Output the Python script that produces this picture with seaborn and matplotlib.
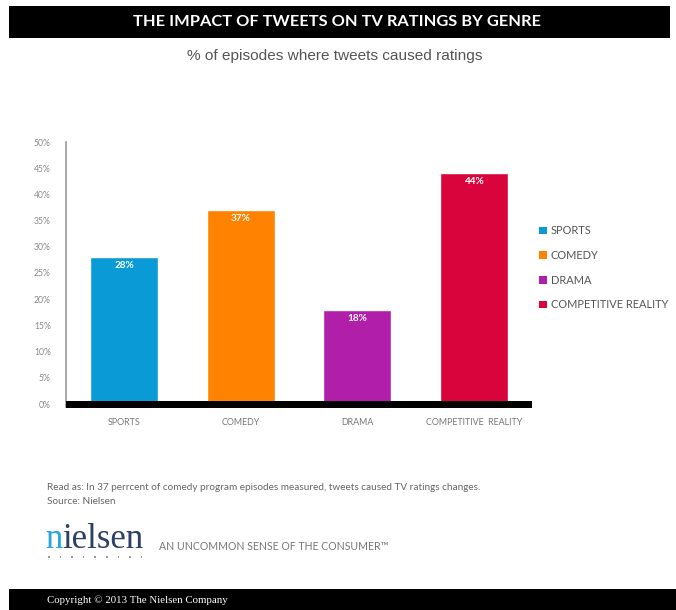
import matplotlib
matplotlib.use("Agg")
import matplotlib.pyplot as plt
from matplotlib.patches import Rectangle, Patch
import seaborn as sns
import pandas as pd

# Data
genres = ["SPORTS", "COMEDY", "DRAMA", "COMPETITIVE  REALITY"]
legend_labels = ["SPORTS", "COMEDY", "DRAMA", "COMPETITIVE REALITY"]
values = [28, 37, 18, 44]
colors = ["#0A9BD7", "#FF8200", "#B11FAA", "#D9043B"]
yticks = [0, 5, 10, 15, 20, 25, 30, 35, 40, 45, 50]

title = "THE IMPACT OF TWEETS ON TV RATINGS BY GENRE"
subtitle = "% of episodes where tweets caused ratings"
note = "Read as: In 37 perrcent of comedy program episodes measured, tweets caused TV ratings changes."
source = "Source: Nielsen"
copyright_text = "Copyright \u00a9 2013 The Nielsen Company"

df = pd.DataFrame({"genre": genres, "value": values})

sns.set_theme(style="white")
plt.rcParams["font.family"] = ["Lato", "DejaVu Sans"]

W, H = 676, 610
fig = plt.figure(figsize=(W / 100, H / 100), dpi=100)
fig.patch.set_facecolor("white")


def fx(px):
    return px / W


def fy(py):
    return 1 - py / H


# Header band
fig.patches.append(Rectangle((fx(9), fy(38)), fx(661), (38 - 6) / H,
                             transform=fig.transFigure, facecolor="black",
                             edgecolor="none", zorder=0))
fig.text(fx(337), fy(22), title, ha="center", va="center", color="white",
         fontsize=11.8, fontweight="bold", family=["Lato", "DejaVu Sans"])
fig.text(fx(335), fy(56), subtitle, ha="center", va="center", color="#555555",
         fontsize=11.1, family=["Liberation Sans", "DejaVu Sans"])

# Footer band
fig.patches.append(Rectangle((fx(9), 0), fx(667), (610 - 589) / H,
                             transform=fig.transFigure, facecolor="black",
                             edgecolor="none", zorder=0))
fig.text(fx(47), fy(600), copyright_text, ha="left", va="center", color="white",
         fontsize=7.8, family=["Liberation Serif", "DejaVu Serif"])

# Main chart
ax = fig.add_axes([fx(66), fy(404), fx(532 - 66), (404 - 142) / H])
sns.barplot(data=df, x="genre", y="value", hue="genre", palette=colors,
            width=0.58, legend=False, ax=ax, saturation=1, zorder=2)
ax.set_xlim(-0.5, 3.5)
ax.set_ylim(0, 50)
ax.set_yticks(yticks)
ax.set_yticklabels([f"{v}%" for v in yticks], color="#8a8a8a", fontsize=6.2)
ax.tick_params(axis="y", length=0, pad=11)
ax.tick_params(axis="x", length=0, pad=10, labelsize=6.4, labelcolor="#777777")
ax.set_xlabel("")
ax.set_ylabel("")
for side in ["top", "right", "bottom"]:
    ax.spines[side].set_visible(False)
ax.spines["left"].set_color("#999999")
ax.spines["left"].set_linewidth(1.2)
ax.spines["left"].set_bounds(-0.6, 50)

# Heavy black floor under the bars
ax.add_patch(Rectangle((0, -4 / 262), 1, 7.5 / 262, transform=ax.transAxes,
                       facecolor="black", edgecolor="none", zorder=3,
                       clip_on=False))

for i, v in enumerate(values):
    ax.annotate(f"{v}%", (i, v), xytext=(0, -6), textcoords="offset points",
                ha="center", va="center", color="white", fontsize=7.2,
                fontweight="bold")

handles = [Patch(facecolor=c, edgecolor="none") for c in colors]
fig.legend(handles, legend_labels, loc="upper left",
           bbox_to_anchor=(fx(535), fy(221)), frameon=False, fontsize=7.9,
           labelcolor="#555555", handlelength=0.7, handleheight=0.7,
           handletextpad=0.35, labelspacing=1.24, borderaxespad=0)

# Notes
fig.text(fx(47), fy(488), note, ha="left", va="center", color="#666666",
         fontsize=7.2)
fig.text(fx(47), fy(501), source, ha="left", va="center", color="#666666",
         fontsize=7.2)

# Brand mark
fig.text(fx(45), fy(540), "n", ha="left", va="center", color="#2AA7DF",
         fontsize=25, family=["Liberation Serif", "DejaVu Serif"])
fig.text(fx(62), fy(540), "ielsen", ha="left", va="center", color="#2E3F66",
         fontsize=25, family=["Liberation Serif", "DejaVu Serif"])
for k in range(9):
    fig.patches.append(Rectangle((fx(48 + k * 11.6), fy(558)), 1.6 / W, 1.6 / H,
                                 transform=fig.transFigure,
                                 facecolor="#9a9a9a", edgecolor="none"))
fig.text(fx(159), fy(547), "AN UNCOMMON SENSE OF THE CONSUMER\u2122",
         ha="left", va="center", color="#777777", fontsize=7.6)

fig.savefig("out.png", dpi=100, facecolor="white")
